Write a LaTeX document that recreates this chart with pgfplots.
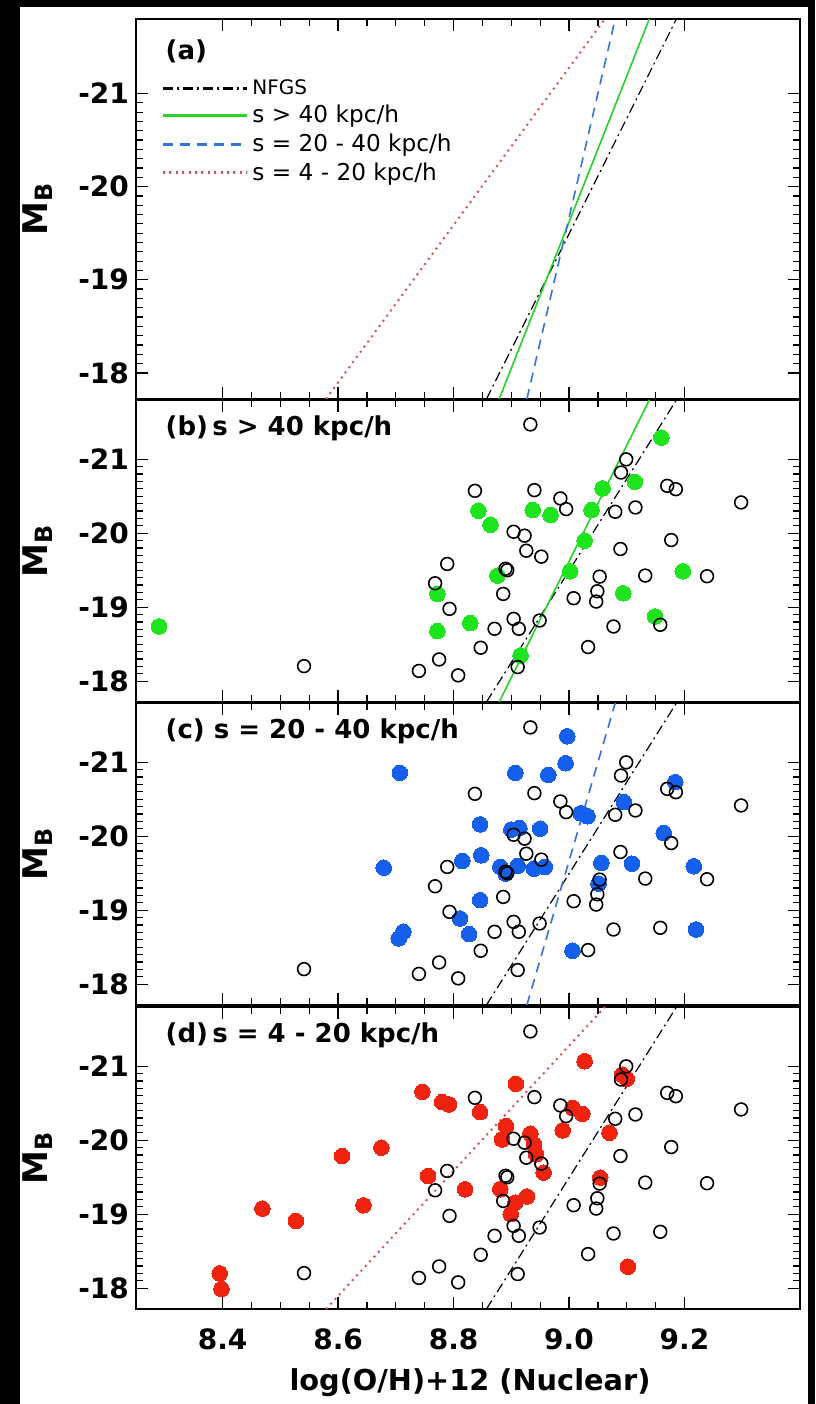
\documentclass[border=0pt]{standalone}
\usepackage{pgfplots}
\usepackage{pgfplotstable}
\pgfplotsset{compat=1.18}
\usepackage{fontspec}
\setmainfont{DejaVu Sans}
\definecolor{gfill}{RGB}{30,228,30}
\definecolor{bfill}{RGB}{20,95,235}
\definecolor{rfill}{RGB}{240,35,15}
\definecolor{gline}{RGB}{40,210,40}
\definecolor{bline}{RGB}{50,115,220}
\definecolor{rline}{RGB}{215,80,90}

\pgfplotstableread{
x y
8.933 -21.47
8.837 -20.573
8.940 -20.582
8.985 -20.47
8.995 -20.326
9.099 -20.998
9.090 -20.82
9.170 -20.640
9.185 -20.595
9.080 -20.290
9.115 -20.348
9.298 -20.416
8.904 -20.02
8.923 -19.967
8.926 -19.764
8.952 -19.684
9.177 -19.908
9.089 -19.787
8.789 -19.585
8.890 -19.52
8.893 -19.50
8.768 -19.324
8.886 -19.18
8.793 -18.978
9.053 -19.414
9.049 -19.216
9.047 -19.077
9.008 -19.122
9.132 -19.428
9.239 -19.419
8.904 -18.843
8.913 -18.709
8.949 -18.821
8.871 -18.709
9.077 -18.740
9.158 -18.763
8.847 -18.453
8.775 -18.295
9.033 -18.462
8.808 -18.080
8.911 -18.192
8.740 -18.14
8.541 -18.205
}\opendata

\pgfplotstableread{
x y
9.160 -21.292
9.114 -20.694
9.058 -20.605
9.039 -20.313
8.843 -20.304
8.864 -20.115
8.937 -20.313
8.968 -20.245
9.027 -19.899
9.002 -19.486
8.876 -19.428
9.197 -19.486
9.094 -19.189
8.772 -19.180
8.829 -18.785
8.772 -18.677
9.149 -18.875
8.916 -18.349
8.290 -18.74
}\gdata

\pgfplotstableread{
x y
8.997 -21.350
8.994 -20.986
8.907 -20.856
8.964 -20.829
9.184 -20.730
9.095 -20.461
9.020 -20.310
9.032 -20.27
8.846 -20.160
8.900 -20.090
8.914 -20.110
8.950 -20.101
9.164 -20.043
8.815 -19.666
8.848 -19.742
8.881 -19.585
8.890 -19.495
8.911 -19.598
8.939 -19.562
8.958 -19.585
9.056 -19.639
9.109 -19.630
9.216 -19.594
9.051 -19.360
8.846 -19.136
8.811 -18.888
8.827 -18.677
9.220 -18.740
9.006 -18.453
8.707 -20.856
8.679 -19.575
8.713 -18.709
8.705 -18.619
}\bdata

\pgfplotstableread{
x y
9.027 -21.067
8.908 -20.762
9.092 -20.885
9.100 -20.83
8.780 -20.515
8.792 -20.483
8.846 -20.380
9.006 -20.438
9.023 -20.357
8.989 -20.133
9.070 -20.101
8.891 -20.191
8.884 -20.011
8.933 -20.088
8.939 -19.944
8.943 -19.809
8.956 -19.562
9.054 -19.495
8.820 -19.338
8.881 -19.338
8.927 -19.239
8.907 -19.158
8.899 -19.001
9.102 -18.291
8.746 -20.654
8.675 -19.899
8.607 -19.787
8.756 -19.517
8.644 -19.121
8.469 -19.077
8.527 -18.911
8.395 -18.201
8.398 -17.989
}\rdata

\tikzset{
  plabel/.style={anchor=west, font=\fontsize{13}{15}\selectfont\bfseries, inner sep=0pt},
  nfgs/.style={black, line width=0.6pt, dash pattern=on 5pt off 2pt on 1pt off 2pt},
  gfit/.style={gline, line width=0.8pt},
  bfit/.style={bline, line width=0.8pt, dash pattern=on 5pt off 3.5pt},
  rfit/.style={rline, line width=1pt, dash pattern=on 1pt off 2.2pt},
}
\pgfplotsset{
  panel/.style={
    scale only axis, width=332pt, height=151pt,
    xmin=8.25, xmax=9.4, ymin=-21.8, ymax=-17.72, y dir=reverse,
    xtick={8.4,8.6,8.8,9.0,9.2}, ytick={-21,-20,-19,-18},
    yticklabels={-21,-20,-19,-18},
    xticklabels={},
    minor x tick num=3, minor y tick num=9,
    tick align=inside, xtick pos=both, ytick pos=both,
    major tick length=6pt, minor tick length=3.5pt,
    every tick/.style={black, line width=0.6pt},
    axis line style={line width=0.9pt},
    ticklabel style={font=\fontsize{14}{16}\selectfont\bfseries},
    ylabel={M\textsubscript{B}},
    ylabel style={at={(axis description cs:-0.148,0.5)}, anchor=center,
      font=\fontsize{17}{19}\selectfont\bfseries},
    anchor=south west,
  },
  filled/.style={only marks, mark=*, color=#1, mark size=3.9pt, mark options={solid, line width=0pt}},
  open/.style={only marks, mark=o, mark size=3.2pt, mark options={solid, line width=0.8pt, draw=black}},
}

\begin{document}
\begin{tikzpicture}
\fill[black] (0,0) rectangle (407.5pt,702pt);
\fill[white] (10pt,0) rectangle (404pt,698.5pt);

% panel (a)
\begin{axis}[panel, at={(68pt,502.5pt)}, height=190pt,
  legend style={draw=none, fill=none, at={(axis description cs:0.035,0.858)}, anchor=north west,
    font=\fontsize{11.6}{13}\selectfont, row sep=0pt, inner sep=1pt,
    /tikz/every even column/.append style={column sep=4pt}},
  legend cell align=left,
  legend image code/.code={\draw[#1, line width=1.4pt] (0pt,0pt) -- (42pt,0pt);},
  ]
\addplot[nfgs] coordinates {(8.857,-17.72) (9.186,-21.8)};
\addlegendentry{\fontsize{10}{12}\selectfont NFGS}
\addplot[gfit] coordinates {(8.879,-17.72) (9.139,-21.8)};
\addlegendentry{s > 40 kpc/h}
\addplot[bfit] coordinates {(8.927,-17.72) (9.080,-21.8)};
\addlegendentry{s = 20 - 40 kpc/h}
\addplot[rfit] coordinates {(8.579,-17.72) (9.062,-21.8)};
\addlegendentry{s = 4 - 20 kpc/h}
\node[plabel] at (axis description cs:0.044,0.915) {(a)};
\end{axis}

% panel (b)
\begin{axis}[panel, at={(68pt,351pt)}]
\addplot[nfgs] coordinates {(8.857,-17.72) (9.186,-21.8)};
\addplot[gfit] coordinates {(8.879,-17.72) (9.139,-21.8)};
\addplot[filled=gfill] table {\gdata};
\addplot[open] table {\opendata};
\node[plabel] at (axis description cs:0.044,0.907) {(b)\,s > 40 kpc/h};
\end{axis}

% panel (c)
\begin{axis}[panel, at={(68pt,199.5pt)}]
\addplot[nfgs] coordinates {(8.857,-17.72) (9.186,-21.8)};
\addplot[bfit] coordinates {(8.927,-17.72) (9.080,-21.8)};
\addplot[filled=bfill] table {\bdata};
\addplot[open] table {\opendata};
\node[plabel] at (axis description cs:0.044,0.907) {(c) s = 20 - 40 kpc/h};
\end{axis}

% panel (d)
\begin{axis}[panel, at={(68pt,47.5pt)},
  xticklabels={8.4,8.6,8.8,9.0,9.2},
  xlabel={log(O/H)+12 (Nuclear)},
  xlabel style={at={(axis description cs:0.503,-0.245)}, anchor=center,
      font=\fontsize{14.4}{16}\selectfont\bfseries},
  xticklabel style={yshift=-6.5pt},
  ]
\addplot[nfgs] coordinates {(8.857,-17.72) (9.186,-21.8)};
\addplot[rfit] coordinates {(8.579,-17.72) (9.062,-21.8)};
\addplot[filled=rfill] table {\rdata};
\addplot[open] table {\opendata};
\node[plabel] at (axis description cs:0.044,0.907) {(d)\,s = 4 - 20 kpc/h};
\end{axis}
\end{tikzpicture}
\end{document}
